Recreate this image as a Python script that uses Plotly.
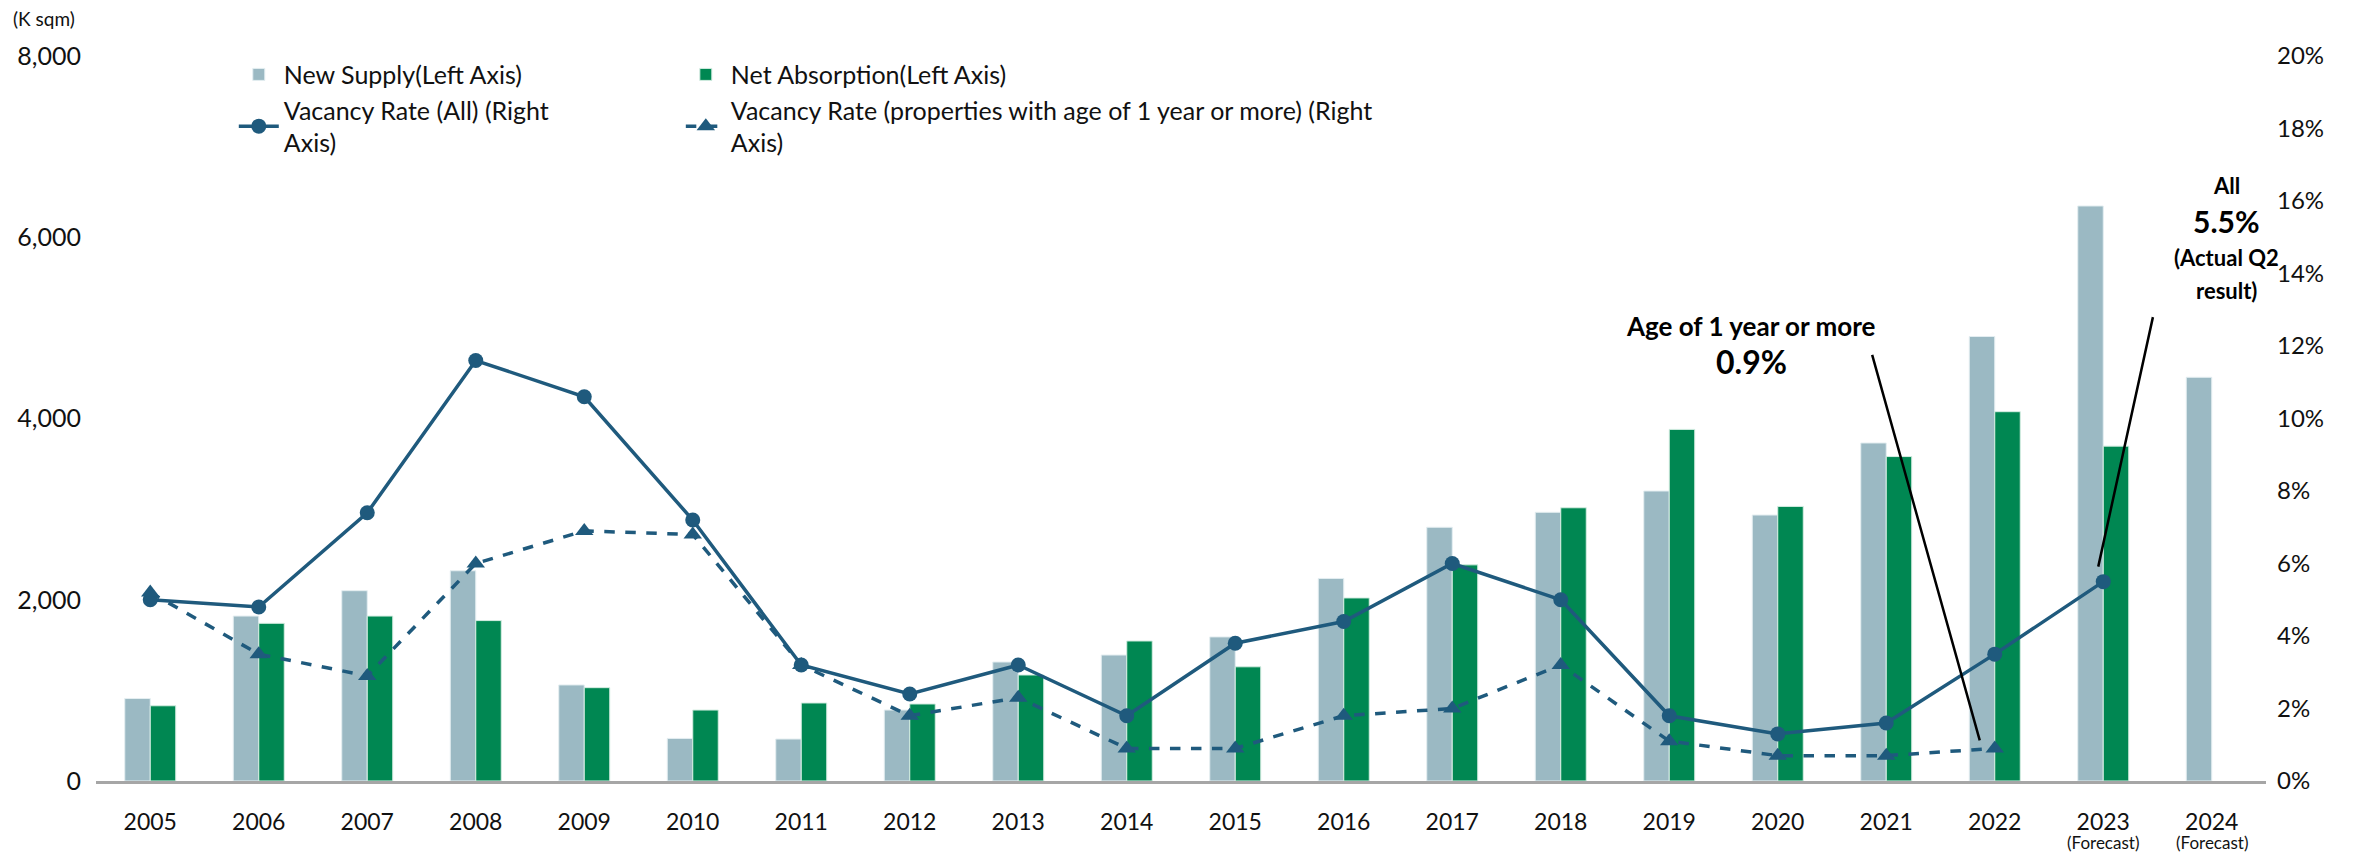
import plotly.graph_objects as go

# Data
years = [str(y) for y in range(2005, 2025)]
forecast_years = ['2023', '2024']
new_supply = [910, 1820, 2100, 2320, 1060, 470, 463, 783, 1313, 1390,
              1590, 2235, 2800, 2965, 3200, 2935, 3730, 4905, 6345, 4455]
net_absorption = [830, 1740, 1820, 1770, 1030, 783, 861, 850, 1170, 1545,
                  1260, 2020, 2385, 3015, 3880, 3030, 3580, 4075, 3695, None]
vacancy_all = [5.0, 4.8, 7.4, 11.6, 10.6, 7.2, 3.2, 2.4, 3.2, 1.8,
               3.8, 4.4, 6.0, 5.0, 1.8, 1.3, 1.6, 3.5, 5.5, None]
vacancy_1yr = [5.2, 3.5, 2.9, 6.0, 6.9, 6.8, 3.2, 1.8, 2.3, 0.9,
               0.9, 1.8, 2.0, 3.2, 1.1, 0.7, 0.7, 0.9, None, None]

FONT = 'Lato'
LINE_COLOR = '#1F5A7D'

fig = go.Figure()

# Bars (left axis)
fig.add_trace(go.Bar(
    x=years, y=new_supply, name='New Supply(Left Axis)',
    marker=dict(color='#9BB9C3', line=dict(color='#E4EEF1', width=1)),
    legend='legend',
))
fig.add_trace(go.Bar(
    x=years, y=net_absorption, name='Net Absorption(Left Axis)',
    marker=dict(color='#008752', line=dict(color='#D5EDE2', width=1)),
    legend='legend2',
))

# Vacancy lines (right axis)
fig.add_trace(go.Scatter(
    x=years, y=vacancy_all, yaxis='y2', mode='lines+markers',
    name='Vacancy Rate (All) (Right<br>Axis)',
    line=dict(color=LINE_COLOR, width=3.5),
    marker=dict(symbol='circle', size=15, color=LINE_COLOR),
    legend='legend',
))
fig.add_trace(go.Scatter(
    x=years, y=vacancy_1yr, yaxis='y2', mode='lines+markers',
    name='Vacancy Rate (properties with age of 1 year or more) (Right<br>Axis)',
    line=dict(color=LINE_COLOR, width=3.5, dash='dash'),
    marker=dict(symbol='triangle-up', size=16, color=LINE_COLOR),
    legend='legend2',
))

legend_common = dict(
    orientation='v', yanchor='top', y=1.006, xanchor='left',
    bgcolor='rgba(0,0,0,0)', font=dict(family=FONT, size=25, color='#111111'),
    tracegroupgap=0, itemwidth=40,
)

# page body keeps its default 8px margin, so the figure is 16px smaller
fig.update_layout(
    width=2340, height=846,
    margin=dict(l=88, r=82, t=48, b=73),
    paper_bgcolor='white', plot_bgcolor='white',
    barmode='group', bargap=0.53, bargroupgap=0,
    font=dict(family=FONT, color='#111111'),
    legend=dict(x=0.0635, **legend_common),
    legend2=dict(x=0.2695, **legend_common),
    xaxis=dict(
        type='category', range=[-0.5, len(years) - 0.5], autorange=False,
        automargin=False,
        showline=True, linecolor='#A6A6A6', linewidth=2.5, showgrid=False,
        ticks='', ticklabelstandoff=19, tickfont=dict(family=FONT, size=23),
    ),
    yaxis=dict(
        range=[0, 8000], dtick=2000, tickformat=',', showgrid=False,
        zeroline=False, ticks='', ticklabelstandoff=14, automargin=False,
        tickfont=dict(family=FONT, size=25),
    ),
    yaxis2=dict(
        range=[0, 20], dtick=2, ticksuffix='%', overlaying='y', side='right',
        showgrid=False, zeroline=False, ticks='', ticklabelstandoff=10,
        automargin=False, tickfont=dict(family=FONT, size=24),
    ),
)

# Unit label
fig.add_annotation(
    text='(K sqm)', xref='paper', yref='paper', x=-0.039, y=1.052,
    xanchor='left', yanchor='middle', showarrow=False,
    font=dict(family=FONT, size=19),
)

# Forecast notes under the last two year labels
for yr in forecast_years:
    fig.add_annotation(
        text='(Forecast)', x=years.index(yr), xref='x', y=-0.085, yref='paper',
        xanchor='center', yanchor='middle', showarrow=False,
        font=dict(family=FONT, size=17),
    )

# Callout texts
callouts = [
    ('<b>Age of 1 year or more</b>', 0.7627, 0.6276, 26),
    ('<b>0.9%</b>', 0.7631, 0.5793, 32),
    ('<b>All</b>', 0.982, 0.8207, 22),
    ('<b>5.5%</b>', 0.982, 0.7724, 30),
    ('<b>(Actual Q2</b>', 0.982, 0.7214, 22),
    ('<b>result)</b>', 0.982, 0.6772, 22),
]
for text, x, y, size in callouts:
    fig.add_annotation(
        text=text, xref='paper', yref='paper', x=x, y=y,
        xanchor='center', yanchor='middle', showarrow=False,
        font=dict(family=FONT, size=size, color='black'),
    )

# Leader lines (category index used as x on the category axis)
fig.add_annotation(
    x=years.index('2022'), y=vacancy_1yr[years.index('2022')],
    xref='x', yref='y2', text='', showarrow=True,
    arrowhead=0, arrowwidth=2.5, arrowcolor='black',
    ax=-108, ay=-387, xshift=-15, yshift=8,
)
fig.add_annotation(
    x=years.index('2023'), y=vacancy_all[years.index('2023')],
    xref='x', yref='y2', text='', showarrow=True,
    arrowhead=0, arrowwidth=2.5, arrowcolor='black',
    ax=55, ay=-251, xshift=-5, yshift=15,
)

fig.write_html('out.html')
